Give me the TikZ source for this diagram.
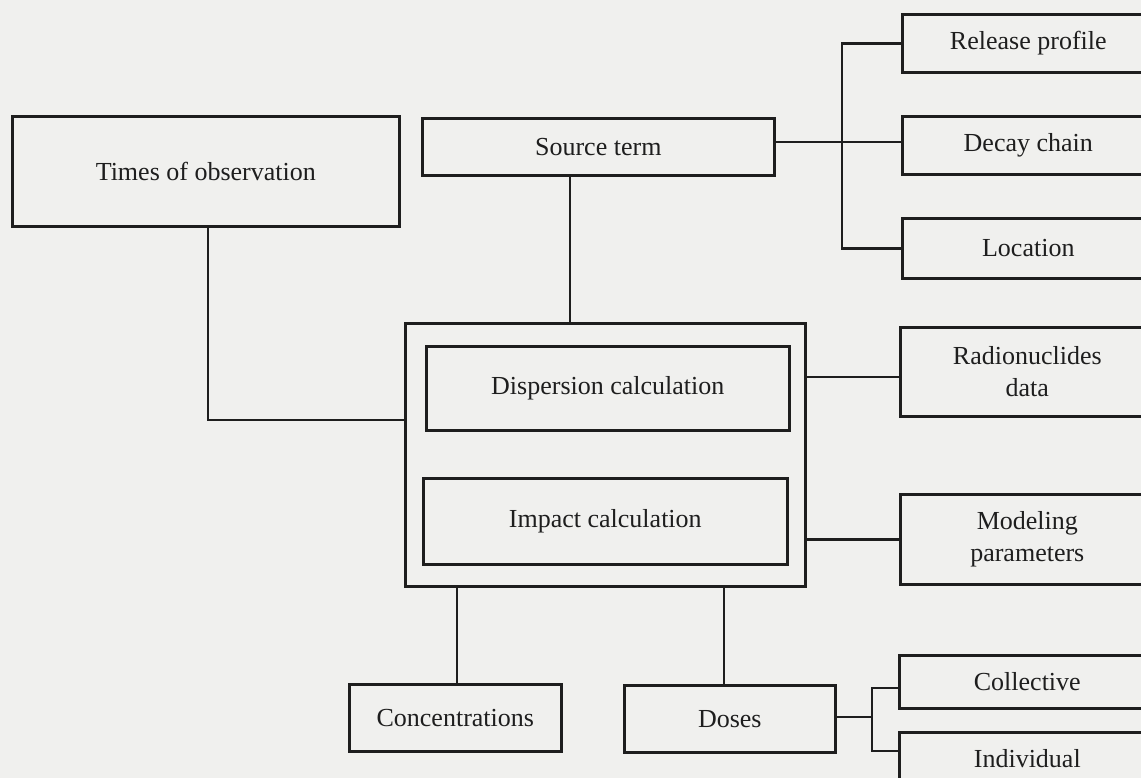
\documentclass[tikz,border=0pt]{standalone}
\usepackage{fontspec}
\setmainfont{Liberation Serif}
\definecolor{paper}{RGB}{240,240,238}
\definecolor{ink}{RGB}{30,30,30}
\begin{document}
\begin{tikzpicture}[x=1pt,y=-1pt,
  line width=2.6pt, draw=ink,
  box/.style={draw=ink, line width=2.6pt, rectangle, anchor=north west, inner sep=0pt,
     align=center, text=ink, font=\fontsize{26}{32}\selectfont},
  wire/.style={draw=ink, line width=2.6pt}]
\fill[paper] (0,0) rectangle (1141,778);
\useasboundingbox (0,0) rectangle (1141,778);
\clip (0,0) rectangle (1141,778);
% nodes
\node[box, minimum width=387pt, minimum height=110pt] (tobs) at (11,115) {Times of observation};
\node[box, minimum width=352pt, minimum height=57pt] (st) at (421,117) {Source term};
\node[box, minimum width=252pt, minimum height=58pt] (rp) at (901,13) {Release profile};
\node[box, minimum width=252pt, minimum height=58pt] (dc) at (901,115) {Decay chain};
\node[box, minimum width=252pt, minimum height=60pt] (loc) at (901,217) {Location};
\node[box, minimum width=400pt, minimum height=263pt] (big) at (404,322) {};
\node[box, minimum width=363pt, minimum height=84pt] (disp) at (425,345) {Dispersion calculation};
\node[box, minimum width=364pt, minimum height=86pt] (imp) at (422,477) {Impact calculation};
\node[box, minimum width=254pt, minimum height=89pt] (rad) at (899,326) {Radionuclides\\data};
\node[box, minimum width=254pt, minimum height=90pt] (mod) at (899,493) {Modeling\\parameters};
\node[box, minimum width=212pt, minimum height=67pt] (conc) at (348,683) {Concentrations};
\node[box, minimum width=211pt, minimum height=67pt] (dos) at (623,684) {Doses};
\node[box, minimum width=256pt, minimum height=53pt] (col) at (898,654) {Collective};
\node[box, minimum width=256pt, minimum height=53pt] (ind) at (898,731) {Individual};
% bus points
\coordinate (b1) at (842,142);
\coordinate (b2) at (872,717);
% connectors
\draw[wire] (tobs.south -| 208,0) |- (big.west |- 0,420);
\draw[wire] (st.south -| 570,0) -- (big.north -| 570,0);
\draw[wire] (st.east |- b1) -- (b1);
\draw[wire] (rp.west) -| (b1) |- (loc.west);
\draw[wire] (b1) -- (dc.west |- b1);
\draw[wire] (big.east |- 0,377) -- (rad.west |- 0,377);
\draw[wire] (big.east |- mod.west) -- (mod.west);
\draw[wire] (big.south -| 457,0) -- (conc.north -| 457,0);
\draw[wire] (big.south -| 724,0) -- (dos.north -| 724,0);
\draw[wire] (dos.east |- b2) -- (b2);
\draw[wire] ([yshift=-6pt]col.west) -| (b2) |- ([yshift=8pt]ind.west);
\end{tikzpicture}
\end{document}
